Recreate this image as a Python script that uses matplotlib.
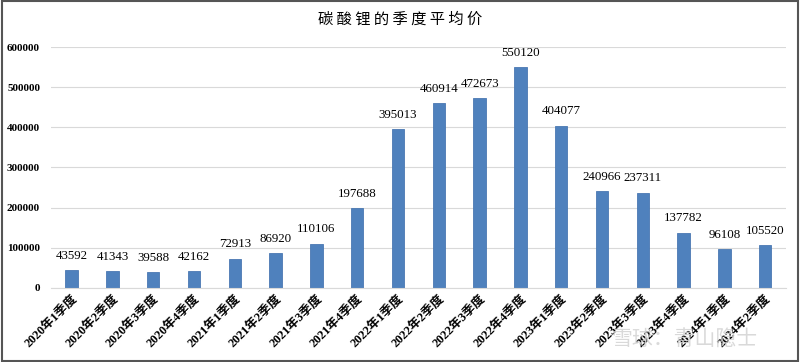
import numpy as np
import matplotlib.pyplot as plt

quarters = ["2020年1季度", "2020年2季度", "2020年3季度", "2020年4季度",
            "2021年1季度", "2021年2季度", "2021年3季度", "2021年4季度",
            "2022年1季度", "2022年2季度", "2022年3季度", "2022年4季度",
            "2023年1季度", "2023年2季度", "2023年3季度", "2023年4季度",
            "2024年1季度", "2024年2季度"]
prices = [43592, 41343, 39588, 42162, 72913, 86920, 110106, 197688,
          395013, 460914, 472673, 550120, 404077, 240966, 237311, 137782,
          96108, 105520]
yticks = [0, 100000, 200000, 300000, 400000, 500000, 600000]

fonts = ["Liberation Serif", "Noto Sans CJK SC", "DejaVu Sans"]
plt.rcParams["font.family"] = fonts

fig = plt.figure(figsize=(8, 3.62), dpi=100)
ax = fig.add_axes([0.064, 0.205, 0.918, 0.665])

x = np.arange(len(quarters))
ax.bar(x, prices, width=0.3, color="#4f81bd", edgecolor="#4a78b2", linewidth=0.6, zorder=2)
for xi, v in zip(x, prices):
    ax.annotate(str(v), (xi, v), xytext=(0, 6), textcoords="offset points",
                ha="center", va="bottom", fontsize=9.3)

ax.set_xlim(-0.5, len(quarters) - 0.5)
ax.set_ylim(0, 600000)
ax.set_yticks(yticks)
ax.set_yticklabels([str(t) for t in yticks], fontsize=8, fontweight="bold")
ax.set_xticks(x)
ax.set_xticklabels(quarters, rotation=45, ha="right", rotation_mode="anchor",
                   fontsize=9, fontweight="bold")
ax.tick_params(axis="y", length=0, pad=8)
ax.tick_params(axis="x", length=0, pad=4)
ax.yaxis.grid(True, color="#d9d9d9", linewidth=0.8, zorder=0)
for s in ["top", "right", "left"]:
    ax.spines[s].set_visible(False)
ax.spines["bottom"].set_color("#d9d9d9")

fig.text(0.5, 0.948, "碳 酸 锂 的 季 度 平 均 价", ha="center", va="center",
         fontsize=11, family=["Noto Sans CJK SC", "DejaVu Sans"])
fig.text(0.855, 0.065, "雪球：青山隐士", ha="center", va="center", fontsize=15,
         color="#d0d0d0", alpha=0.8, family=["Noto Sans CJK SC", "DejaVu Sans"])

fig.patches.append(plt.Rectangle((0.002, 0.003), 0.996, 0.994, transform=fig.transFigure,
                                 fill=False, edgecolor="#555555", linewidth=1.5))
fig.savefig("out.png", dpi=100)
